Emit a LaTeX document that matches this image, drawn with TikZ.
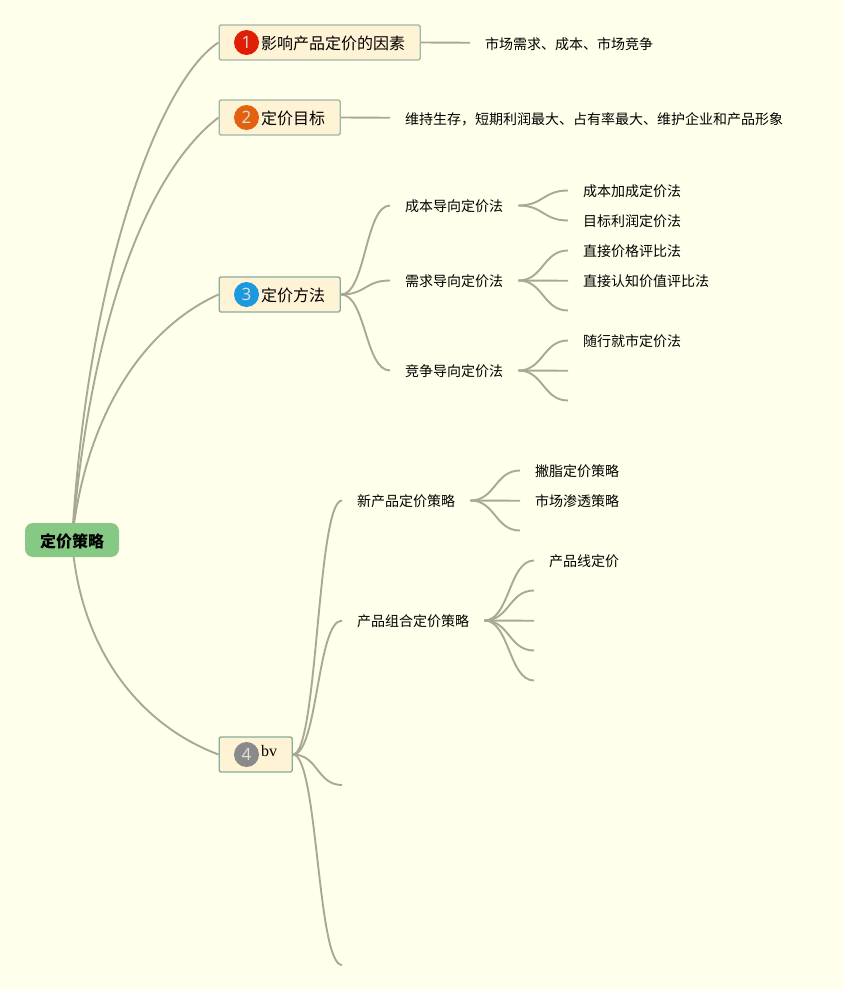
\documentclass[tikz,border=0pt]{standalone}
\usepackage{fontspec}
\setmainfont{Noto Sans CJK SC}
\newfontfamily\numfont{Open Sans}
\newfontfamily\latinfont{Liberation Serif}
\definecolor{bgc}{HTML}{FFFFEB}
\definecolor{boxfill}{HTML}{FFF3D6}
\definecolor{boxline}{HTML}{9DBAA8}
\definecolor{boxlineb}{HTML}{86AD9E}
\definecolor{rootfill}{HTML}{85C984}
\definecolor{linkc}{HTML}{A9A894}
\definecolor{redb}{HTML}{DE1F05}
\definecolor{orangeb}{HTML}{E2620F}
\definecolor{blueb}{HTML}{1C98DE}
\definecolor{greyb}{HTML}{8A8A8A}
\usetikzlibrary{calc}
\pgfdeclarelayer{bg}
\pgfdeclarelayer{links}
\pgfsetlayers{bg,links,main}
\tikzset{
  rootbox/.style={draw=none,fill=rootfill,rounded corners=8pt,minimum width=94pt,minimum height=34pt,inner sep=0pt,font=\fontsize{16}{18}\selectfont\bfseries,text height=14pt,text depth=0pt},
  mainbox/.style={draw=boxline,line width=1.4pt,fill=boxfill,rounded corners=1.5pt,minimum height=35pt,inner xsep=0pt,inner ysep=0pt,anchor=west,align=left,font=\fontsize{16}{18}\selectfont,text height=13pt,text depth=0pt},
  badge/.style={circle,minimum size=25pt,inner sep=0pt,text=white!88!black,font=\fontsize{17}{18}\selectfont},
  topic/.style={inner xsep=15pt,inner ysep=3pt,anchor=west,font=\fontsize{14}{16}\selectfont,text height=12pt,text depth=0pt},
  link/.style={draw=linkc,line width=1.9pt},
}
\newcommand{\curv}[2]{\draw[link] (#1) .. controls ($(#1)+(25,0)$) and ($(#2)+(-25,0)$) .. (#2);}
\newcommand{\strt}[2]{\draw[link] (#1) -- ($(#1 -| #2)+(0,0.25)$);}
\begin{document}
\begin{tikzpicture}[x=1pt,y=-1pt]
\begin{pgfonlayer}{bg}
\fill[bgc] (0,0) rectangle (843,990);
\end{pgfonlayer}
\useasboundingbox (0,0) rectangle (843,990);
% nodes
\node[rootbox] (root) at (72,540) {定价策略};
\node[mainbox,text width=201pt] (n1) at (218.5,42.5) {\hspace*{42pt}影响产品定价的因素};
\node[mainbox,text width=121pt] (n2) at (218.5,117.5) {\hspace*{42pt}定价目标};
\node[mainbox,draw=boxlineb,text width=121pt] (n3) at (218.5,294.5) {\hspace*{42pt}定价方法};
\node[mainbox,draw=boxlineb,minimum width=73pt] (n4) at (218.5,754.5) {};
\node[anchor=west,inner sep=0pt,font=\fontsize{16}{18}\latinfont] (bv) at (261,751) {bv};
\node[badge,fill=redb] (b1) at (246.5,42.5) {\numfont 1};
\node[badge,fill=orangeb] (b2) at (246.5,117.5) {\numfont 2};
\node[badge,fill=blueb] (b3) at (246.5,294.5) {\numfont 3};
\node[badge,fill=greyb] (b4) at (246.5,754.5) {\numfont 4};
% branch 1,2
\node[topic] (a1) at (470,43.5) {市场需求、成本、市场竞争};
\node[topic] (a2) at (390,118.5) {维持生存，短期利润最大、占有率最大、维护企业和产品形象};
% branch 3
\node[topic] (c1) at (390,205.5) {成本导向定价法};
\node[topic] (c2) at (390,280.5) {需求导向定价法};
\node[topic] (c3) at (390,370.5) {竞争导向定价法};
\node[topic] (c11) at (568,190.5) {成本加成定价法};
\node[topic] (c12) at (568,220.5) {目标利润定价法};
\node[topic] (c21) at (568,250.5) {直接价格评比法};
\node[topic] (c22) at (568,280.5) {直接认知价值评比法};
\coordinate (c23) at (568,310.5);
\node[topic] (c31) at (568,340.5) {随行就市定价法};
\coordinate (c32) at (568,370.5);
\coordinate (c33) at (568,400.5);
% branch 4
\node[topic] (d1) at (342,500.5) {新产品定价策略};
\node[topic] (d2) at (342,620.5) {产品组合定价策略};
\coordinate (d3) at (342,785);
\coordinate (d4) at (342,965);
\node[topic] (d11) at (520,470.5) {撇脂定价策略};
\node[topic] (d12) at (520,500.5) {市场渗透策略};
\coordinate (d13) at (520,530.5);
\node[topic] (d21) at (534,560.5) {产品线定价};
\coordinate (d22) at (534,590.5);
\coordinate (d23) at (534,620.5);
\coordinate (d24) at (534,650.5);
\coordinate (d25) at (534,680.5);
% connectors
\begin{pgfonlayer}{links}
\draw[link] (root.center) .. controls (88,270) and (160,80) .. (n1.west);
\draw[link] (root.center) .. controls (92,310) and (150,170) .. (n2.west);
\draw[link] (root.center) .. controls (85,420) and (140,330) .. (n3.west);
\draw[link] (root.center) .. controls (80,650) and (140,725) .. (n4.west);
\strt{n1.east}{a1.west}
\strt{n2.east}{a2.west}
\curv{n3.east}{c1.west}
\curv{n3.east}{c2.west}
\curv{n3.east}{c3.west}
\foreach \t in {c11,c12}{\curv{c1.east}{\t.west}}
\curv{c2.east}{c21.west}
\strt{c2.east}{c22.west}
\curv{c2.east}{c23}
\curv{c3.east}{c31.west}
\strt{c3.east}{c32}
\curv{c3.east}{c33}
\curv{n4.east}{d1.west}
\curv{n4.east}{d2.west}
\curv{n4.east}{d3}
\curv{n4.east}{d4}
\curv{d1.east}{d11.west}
\strt{d1.east}{d12.west}
\curv{d1.east}{d13}
\curv{d2.east}{d21.west}
\curv{d2.east}{d22}
\strt{d2.east}{d23}
\curv{d2.east}{d24}
\curv{d2.east}{d25}
\end{pgfonlayer}
\end{tikzpicture}
\end{document}
